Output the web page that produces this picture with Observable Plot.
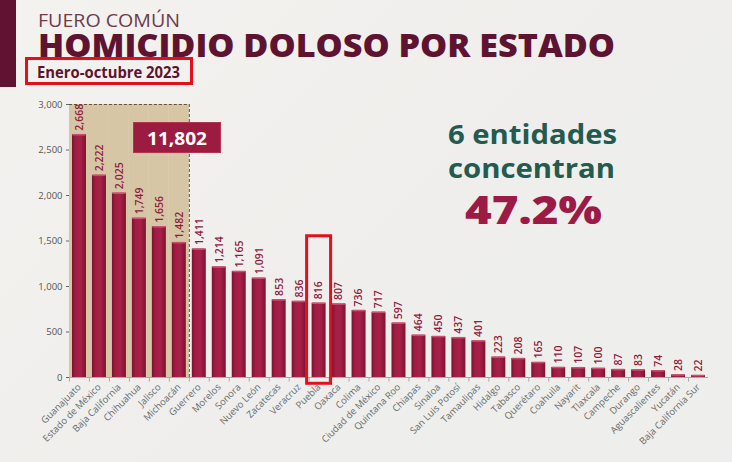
<!DOCTYPE html>
<html>
<head>
<meta charset="utf-8">
<script src="https://cdn.jsdelivr.net/npm/d3@7"></script>
<script src="https://cdn.jsdelivr.net/npm/@observablehq/plot@0.6"></script>
<style>
  html, body { margin: 0; padding: 0; }
  body { width: 732px; height: 462px; overflow: hidden; background: #f0efed; font-family: "Open Sans", sans-serif; }
  #wrap { position: relative; width: 732px; height: 462px; background: linear-gradient(135deg, #f4f2ef 0%, #efeeec 55%, #eeeeee 100%); }
  .abs { position: absolute; white-space: nowrap; line-height: 1; }
  .fit { display: inline-block; transform-origin: left center; line-height: 0.8; }
  #chart { position: absolute; left: 0; top: 0; }
</style>
</head>
<body>
<div id="wrap">
  <div class="abs" style="left:0;top:0;width:16px;height:87px;background:#611232;"></div>
  <div class="abs" style="left:38px;top:11px;font-size:18px;font-weight:500;color:#6d3b4b;"><span class="fit" id="t1" data-w="142">FUERO COMÚN</span></div>
  <div class="abs" style="left:38px;top:29px;font-size:32px;font-weight:800;color:#5e1430;"><span class="fit" id="t2" data-w="577">HOMICIDIO DOLOSO POR ESTADO</span></div>
  <div class="abs" style="left:37px;top:63.5px;font-size:16px;font-weight:700;color:#5e1430;"><span class="fit" id="t3" data-w="143">Enero-octubre 2023</span></div>
  <div class="abs" style="left:25px;top:57px;width:162px;height:22px;border:3px solid #e2101d;"></div>
  <div id="chart"></div>
  <div class="abs" style="left:133px;top:122px;width:88px;height:31px;background:#9b1c40;box-shadow:inset 0 0 0 1px #b3344f;"></div>
  <div class="abs" style="left:147px;top:129px;font-size:18px;font-weight:700;color:#ffffff;"><span class="fit" id="t4" data-w="60">11,802</span></div>
  <div class="abs" style="left:448px;top:121px;font-size:26px;font-weight:700;color:#235b4e;"><span class="fit" id="t5" data-w="169">6 entidades</span></div>
  <div class="abs" style="left:448px;top:155px;font-size:26px;font-weight:700;color:#235b4e;"><span class="fit" id="t6" data-w="167">concentran</span></div>
  <div class="abs" style="left:465px;top:190px;font-size:38px;font-weight:800;color:#9b1b46;"><span class="fit" id="t7" data-w="137">47.2%</span></div>
</div>
<script>
const states = ["Guanajuato","Estado de México","Baja California","Chihuahua","Jalisco","Michoacán","Guerrero","Morelos","Sonora","Nuevo León","Zacatecas","Veracruz","Puebla","Oaxaca","Colima","Ciudad de México","Quintana Roo","Chiapas","Sinaloa","San Luis Potosí","Tamaulipas","Hidalgo","Tabasco","Querétaro","Coahuila","Nayarit","Tlaxcala","Campeche","Durango","Aguascalientes","Yucatán","Baja California Sur"];
const values = [2668,2222,2025,1749,1656,1482,1411,1214,1165,1091,853,836,816,807,736,717,597,464,450,437,401,223,208,165,110,107,100,87,83,74,28,22];
const yTicks = [0,500,1000,1500,2000,2500,3000];
const topCount = 6;
const shadeTop = 3000;
const highlightState = "Puebla";
const highlightRange = [-69, 1552];

const data = states.map((s, i) => ({state: s, value: values[i]}));
const topData = data.slice(0, topCount);
const lastTop = topData[topData.length - 1].state;
const fmt = d3.format(",");

const plot = Plot.plot({
  width: 732,
  height: 462,
  marginTop: 104,
  marginBottom: 85,
  marginLeft: 69,
  marginRight: 24,
  style: {background: "transparent", fontFamily: "Open Sans, sans-serif", color: "#666"},
  x: {domain: states, paddingInner: 0.3, paddingOuter: 0.15, label: null, tickRotate: -45, tickSize: 0, tickPadding: 8},
  y: {domain: [0, 3000], ticks: yTicks, tickFormat: d => fmt(d), label: null, tickSize: 3, tickPadding: 4, line: true},
  marks: [
    Plot.barY(topData, {x: "state", y: shadeTop, fill: "#d6c6a5", insetLeft: -3, insetRight: -3}),
    Plot.tickY(topData, {x: "state", y: shadeTop, stroke: "#6b4b3a", strokeDasharray: "3,2", strokeWidth: 1, insetLeft: -3, insetRight: -3}),
    Plot.ruleX([lastTop], {x: d => d, y1: 0, y2: shadeTop, dx: 10, stroke: "#6b4b3a", strokeDasharray: "3,2", strokeWidth: 1}),
    Plot.ruleY([0], {stroke: "#aaa"}),
    Plot.ruleX(data, {x: "state", y1: 0, y2: -50, dx: -10, stroke: "#aaa"}),
    Plot.barY(data, {x: "state", y: "value", fill: "url(#barGrad)"}),
    Plot.tickY(data, {x: "state", y: "value", stroke: "#c9506f", strokeWidth: 1.6, insetLeft: 0.5, insetRight: 0.5}),
    Plot.text(data, {x: "state", y: "value", text: d => fmt(d.value), rotate: -90, textAnchor: "start", dy: -4, fill: "#8e1d3e", fontSize: 10.5, fontWeight: 600}),
    Plot.barY([highlightState], {x: d => d, y1: highlightRange[0], y2: highlightRange[1], fill: "none", stroke: "#e2101d", strokeWidth: 3, insetLeft: -5, insetRight: -5})
  ]
});

const svg = d3.select(plot);
svg.selectAll("g[aria-label='x-axis'] text, g[aria-label='x-axis tick label'] text").style("font-size", "9.5px").attr("fill", "#6a6a6a");
svg.selectAll("g[aria-label='y-axis'] text, g[aria-label='y-axis tick label'] text").style("font-size", "9.5px").attr("fill", "#555");
const defs = svg.insert("defs", ":first-child");
const g = defs.append("linearGradient").attr("id", "barGrad").attr("x1", "0").attr("x2", "1").attr("y1", "0").attr("y2", "0");
[[0, "#7a1230"], [0.25, "#a11d44"], [0.6, "#a82048"], [1, "#7c1331"]].forEach(([o, c]) => g.append("stop").attr("offset", o).attr("stop-color", c));
document.getElementById("chart").appendChild(plot);

document.querySelectorAll(".fit").forEach(el => {
  const target = +el.dataset.w;
  const w = el.getBoundingClientRect().width;
  if (w > 0) el.style.transform = `scaleX(${target / w})`;
});
</script>
</body>
</html>
